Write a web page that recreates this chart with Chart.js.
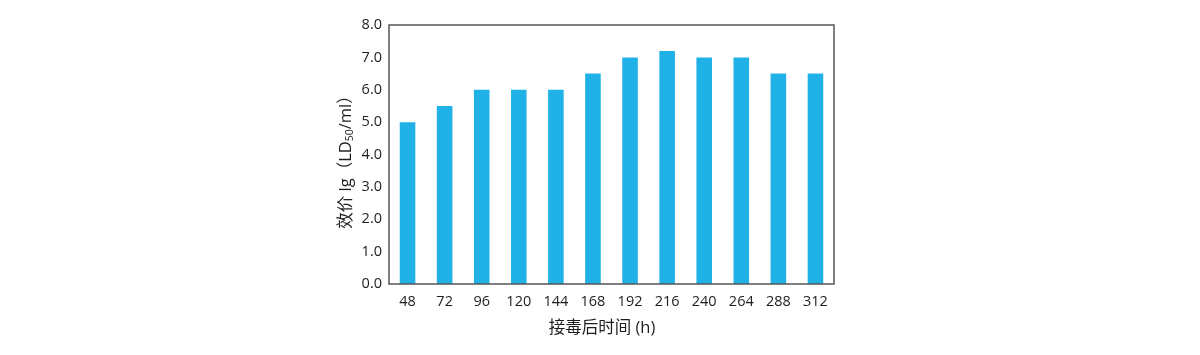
<!DOCTYPE html>
<html>
<head>
<meta charset="utf-8">
<script src="https://cdn.jsdelivr.net/npm/chart.js@4.4.0/dist/chart.umd.min.js"></script>
<style>
html,body{margin:0;padding:0;background:#fff;}
#wrap{width:1200px;height:355px;position:relative;}
</style>
</head>
<body>
<div id="wrap"><canvas id="c" width="1200" height="355"></canvas></div>
<script>
const categories = ['48','72','96','120','144','168','192','216','240','264','288','312'];
const titerValues = [5.0, 5.5, 6.0, 6.0, 6.0, 6.5, 7.0, 7.2, 7.0, 7.0, 6.5, 6.5];
const yTicks = [0,1,2,3,4,5,6,7,8];
const xTitle = '接毒后时间 (h)';
const yTitleParts = [['效价 lg（LD', false], ['50', true], ['/ml）', false]];

const FONT = '"Open Sans", "Noto Sans CJK SC", sans-serif';

const titlesPlugin = {
  id: 'titles',
  afterDraw(chart) {
    const ctx = chart.ctx;
    const a = chart.chartArea;
    ctx.save();
    // box
    ctx.strokeStyle = '#555';
    ctx.lineWidth = 1.5;
    ctx.strokeRect(a.left, a.top, a.right - a.left, a.bottom - a.top);
    // x title
    ctx.fillStyle = '#1e1e1e';
    ctx.font = '16.5px ' + FONT;
    ctx.textAlign = 'center';
    ctx.textBaseline = 'middle';
    ctx.fillText(xTitle, 602, 328);
    // y title rotated with subscript
    const big = '16.5px ' + FONT, small = '10.5px ' + FONT;
    let total = 0;
    for (const [t, sub] of yTitleParts) { ctx.font = sub ? small : big; total += ctx.measureText(t).width; }
    ctx.translate(346, 158);
    ctx.rotate(-Math.PI / 2);
    ctx.textAlign = 'left';
    ctx.textBaseline = 'middle';
    let x = -total / 2;
    for (const [t, sub] of yTitleParts) {
      ctx.font = sub ? small : big;
      ctx.fillText(t, x, sub ? 4 : 0);
      x += ctx.measureText(t).width;
    }
    ctx.restore();
  }
};

new Chart(document.getElementById('c'), {
  type: 'bar',
  data: {
    labels: categories,
    datasets: [{
      data: titerValues,
      backgroundColor: '#20B2E6',
      borderWidth: 0,
      barPercentage: 0.42,
      categoryPercentage: 1.0
    }]
  },
  options: {
    responsive: false,
    animation: false,
    devicePixelRatio: 1,
    layout: { padding: { left: 0, right: 366, top: 25, bottom: 0 } },
    plugins: { legend: { display: false }, tooltip: { enabled: false } },
    scales: {
      x: {
        grid: { display: false, drawTicks: false },
        border: { display: false },
        ticks: { color: '#1e1e1e', font: { family: FONT, size: 14.5 }, padding: 9, maxRotation: 0 },
        afterFit(s) { s.height = 71; }
      },
      y: {
        min: 0, max: 8,
        grid: { display: false, drawTicks: false },
        border: { display: false },
        afterBuildTicks(s) { s.ticks = yTicks.map(v => ({ value: v })); },
        ticks: { color: '#1e1e1e', font: { family: FONT, size: 14.5 }, padding: 7,
          callback: v => Number(v).toFixed(1) },
        afterFit(s) { s.width = 389; }
      }
    }
  },
  plugins: [titlesPlugin]
});
</script>
</body>
</html>
